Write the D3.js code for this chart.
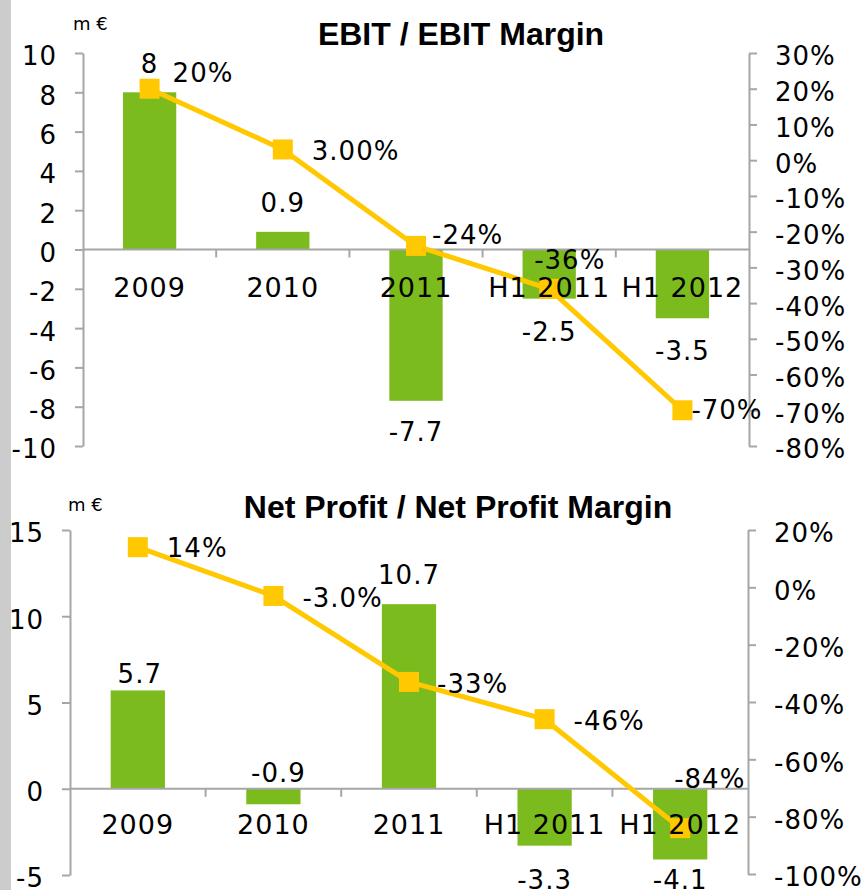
<!DOCTYPE html>
<html>
<head>
<meta charset="utf-8">
<script src="https://cdn.jsdelivr.net/npm/d3@7"></script>
<style>
  html, body { margin: 0; padding: 0; background: #fff; }
  svg { display: block; }
</style>
</head>
<body>
<script>
// ---------- DATA ----------
const categories = ["2009", "2010", "2011", "H1 2011", "H1 2012"];

const ebitValues = [8, 0.9, -7.7, -2.5, -3.5];
const ebitMargin = [20, 3, -24, -36, -70];
const ebitMarginLabels = ["20%", "3.00%", "-24%", "-36%", "-70%"];
const ebitLeftTicks = [-10, -8, -6, -4, -2, 0, 2, 4, 6, 8, 10];
const ebitRightTicks = [-80, -70, -60, -50, -40, -30, -20, -10, 0, 10, 20, 30];

const netValues = [5.7, -0.9, 10.7, -3.3, -4.1];
const netMargin = [14, -3, -33, -46, -84];
const netMarginLabels = ["14%", "-3.0%", "-33%", "-46%", "-84%"];
const netLeftTicks = [-5, 0, 5, 10, 15];
const netRightTicks = [-100, -80, -60, -40, -20, 0, 20];

const titles = ["EBIT / EBIT Margin", "Net Profit / Net Profit Margin"];
const unitLabel = "m €";

// ---------- LAYOUT (positions / styles only) ----------
const W = 863, H = 890;
const GREEN = "#7bbb1d", YELLOW = "#ffc800", AXIS = "#a6a6a6";
const NUM_FONT = "'DejaVu Sans', Verdana, sans-serif";
const TITLE_FONT = "'Liberation Sans', Arial, sans-serif";
const LS = "1px";

const charts = [
  {
    title: titles[0], values: ebitValues, margin: ebitMargin, marginLabels: ebitMarginLabels,
    leftTicks: ebitLeftTicks, rightTicks: ebitRightTicks,
    leftDomain: [-10, 10], rightDomain: [-80, 30],
    x0: 83, x1: 749, yTop: 53, yBot: 446, yBotR: 446,
    titleX: 461, titleY: 45, unitX: 73, unitY: 30, catDy: 47,
    barLabelOff: [[0, -19], [0, -20], [0, 40], [0, 42], [0, 42]],
    lineLabelOff: [[23, -7], [29, 11], [16, -2], [-15, -20], [9, 9]]
  },
  {
    title: titles[1], values: netValues, margin: netMargin, marginLabels: netMarginLabels,
    leftTicks: netLeftTicks, rightTicks: netRightTicks,
    leftDomain: [-5, 15], rightDomain: [-100, 20],
    x0: 70, x1: 748, yTop: 530, yBot: 875, yBotR: 874,
    titleX: 458, titleY: 518, unitX: 68, unitY: 511, catDy: 45,
    barLabelOff: [[2, -7], [5, -22], [0, -20], [0, 43], [0, 30]],
    lineLabelOff: [[29, 10], [29, 11], [28, 11], [29, 11], [-6, -40]]
  }
];

const svg = d3.select("body").append("svg")
  .attr("width", W).attr("height", H);

svg.append("rect").attr("x", 0).attr("y", 0).attr("width", W).attr("height", H).attr("fill", "#fff");
svg.append("rect").attr("x", 0).attr("y", 0).attr("width", 11).attr("height", H).attr("fill", "#cccccc");

charts.forEach(c => {
  const g = svg.append("g");
  const x = d3.scaleBand().domain(categories).range([c.x0, c.x1]).paddingInner(0).paddingOuter(0);
  const yL = d3.scaleLinear().domain(c.leftDomain).range([c.yBot, c.yTop]);
  const yR = d3.scaleLinear().domain(c.rightDomain).range([c.yBotR, c.yTop]);
  const bw = x.bandwidth() * 0.4;
  const cx = d => x(d) + x.bandwidth() / 2;
  const y0 = yL(0);

  // bars
  g.selectAll("rect.bar").data(c.values).join("rect")
    .attr("class", "bar")
    .attr("x", (d, i) => cx(categories[i]) - bw / 2)
    .attr("width", bw)
    .attr("y", d => Math.min(yL(d), y0))
    .attr("height", d => Math.abs(yL(d) - y0))
    .attr("fill", GREEN);

  // left axis
  const gl = g.append("g").attr("transform", `translate(${c.x0},0)`)
    .call(d3.axisLeft(yL).tickValues(c.leftTicks).tickSize(8).tickSizeOuter(0).tickPadding(18)
      .tickFormat(d => String(d)));
  // right axis
  const gr = g.append("g").attr("transform", `translate(${c.x1},0)`)
    .call(d3.axisRight(yR).tickValues(c.rightTicks).tickSize(8).tickSizeOuter(0).tickPadding(18)
      .tickFormat(d => d + "%"));
  [gl, gr].forEach(a => {
    a.attr("font-family", NUM_FONT).attr("font-size", 26);
    a.selectAll("path.domain").attr("stroke", AXIS).attr("stroke-width", 2);
    a.selectAll(".tick line").attr("stroke", AXIS).attr("stroke-width", 2);
    a.selectAll(".tick text").attr("fill", "#000").attr("dy", "0.46em").style("letter-spacing", LS);
  });

  // category axis at zero
  g.append("line").attr("x1", c.x0).attr("x2", c.x1).attr("y1", y0).attr("y2", y0)
    .attr("stroke", AXIS).attr("stroke-width", 2);
  g.selectAll("line.ctick").data(categories.slice(1)).join("line")
    .attr("class", "ctick")
    .attr("x1", d => x(d)).attr("x2", d => x(d))
    .attr("y1", y0).attr("y2", y0 + 8)
    .attr("stroke", AXIS).attr("stroke-width", 2);

  // line + markers
  const line = d3.line().x((d, i) => cx(categories[i])).y(d => yR(d));
  g.append("path").datum(c.margin).attr("d", line)
    .attr("fill", "none").attr("stroke", YELLOW).attr("stroke-width", 5).attr("stroke-linejoin", "round");
  g.selectAll("rect.mk").data(c.margin).join("rect")
    .attr("class", "mk")
    .attr("x", (d, i) => cx(categories[i]) - 10)
    .attr("y", d => yR(d) - 10)
    .attr("width", 20).attr("height", 20)
    .attr("fill", YELLOW);

  // category labels
  g.selectAll("text.cat").data(categories).join("text")
    .attr("class", "cat")
    .attr("x", d => cx(d)).attr("y", y0 + c.catDy)
    .attr("text-anchor", "middle")
    .attr("font-family", NUM_FONT).attr("font-size", 27).attr("fill", "#000")
    .style("letter-spacing", LS)
    .text(d => d);

  // bar value labels
  g.selectAll("text.bl").data(c.values).join("text")
    .attr("class", "bl")
    .attr("x", (d, i) => cx(categories[i]) + c.barLabelOff[i][0])
    .attr("y", (d, i) => yL(d) + c.barLabelOff[i][1])
    .attr("text-anchor", "middle")
    .attr("font-family", NUM_FONT).attr("font-size", 26).attr("fill", "#000")
    .style("letter-spacing", LS)
    .text(d => String(d));

  // line value labels
  g.selectAll("text.ll").data(c.margin).join("text")
    .attr("class", "ll")
    .attr("x", (d, i) => cx(categories[i]) + c.lineLabelOff[i][0])
    .attr("y", (d, i) => yR(d) + c.lineLabelOff[i][1])
    .attr("text-anchor", "start")
    .attr("font-family", NUM_FONT).attr("font-size", 26).attr("fill", "#000")
    .style("letter-spacing", LS)
    .text((d, i) => c.marginLabels[i]);

  // title + unit
  g.append("text").attr("x", c.titleX).attr("y", c.titleY)
    .attr("text-anchor", "middle")
    .attr("font-family", TITLE_FONT).attr("font-weight", "bold").attr("font-size", 32)
    .attr("fill", "#000").text(c.title);
  g.append("text").attr("x", c.unitX).attr("y", c.unitY)
    .attr("font-family", NUM_FONT).attr("font-size", 18).attr("fill", "#000")
    .text(unitLabel);
});
</script>
</body>
</html>
